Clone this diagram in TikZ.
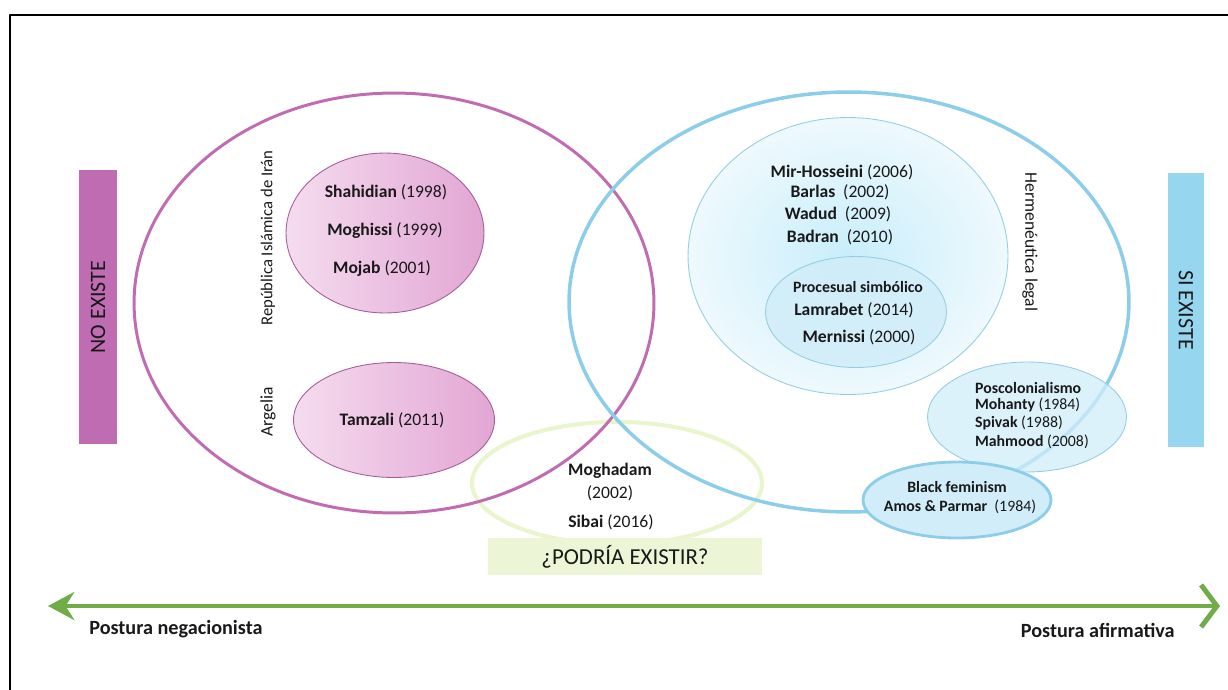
\documentclass[tikz,border=0pt]{standalone}
\usepackage{fontspec}
\setmainfont{Carlito}
\usetikzlibrary{arrows.meta,positioning,shapes.geometric}
\definecolor{nxMagenta}{RGB}{192,108,178}
\definecolor{nxPinkL}{RGB}{245,220,239}
\definecolor{nxPinkR}{RGB}{226,166,212}
\definecolor{nxPinkEdge}{RGB}{168,92,150}
\definecolor{siBlue}{RGB}{140,206,234}
\definecolor{siBar}{RGB}{150,214,238}
\definecolor{siPale}{RGB}{238,249,253}
\definecolor{siMid}{RGB}{200,238,251}
\definecolor{siEdge}{RGB}{150,205,228}
\definecolor{siFill}{RGB}{208,237,249}
\definecolor{pzGreen}{RGB}{232,245,205}
\definecolor{pzFill}{RGB}{236,246,214}
\definecolor{axGreen}{RGB}{112,172,72}
\definecolor{txt}{RGB}{25,25,25}

\tikzset{
  blob/.style={ellipse, inner sep=0pt},
  pinkblob/.style={blob, draw=nxPinkEdge, line width=0.5pt, left color=nxPinkL, right color=nxPinkR},
  authtxt/.style={font=\fontsize{10}{12}\selectfont, text=txt, inner sep=1pt},
  smalltxt/.style={font=\fontsize{9}{11}\selectfont, text=txt, inner sep=1pt},
  sidetxt/.style={font=\fontsize{10}{12}\selectfont, text=txt, inner sep=1pt},
  axtxt/.style={font=\fontsize{11.5}{13}\selectfont\bfseries, text=txt, inner sep=0pt},
  bar/.style={inner sep=0pt, font=\fontsize{12.5}{14}\selectfont, text=txt}
}

\begin{document}
\begin{tikzpicture}[x=0.02cm, y=-0.02cm, line cap=round, line join=round]
  \useasboundingbox (0,0) rectangle (1228,690);
  % frame
  \draw[black, line width=1.4pt] (10,690) -- (10,15) -- (1228,15);

  % podria existir
  \node[blob, draw=pzGreen, line width=2.3pt, minimum width=5.8cm, minimum height=2.44cm] (podria) at (617,483) {};
  \node[fill=pzFill, minimum width=5.48cm, minimum height=0.74cm, inner sep=0pt,
        font=\fontsize{13}{15}\selectfont, text=txt] (podtag) at (625,556.5) {¿PODRÍA EXISTIR?};

  % the two big sets
  \node[blob, draw=nxMagenta, line width=1.7pt, minimum width=10.4cm, minimum height=8.4cm] (noset) at (394,303) {};
  \node[blob, draw=siBlue, line width=2pt, minimum width=11.2cm, minimum height=8.4cm] (siset) at (849,302) {};

  % no existe side
  \node[pinkblob, minimum width=3.96cm, minimum height=3.2cm] (iran) at (385,233) {};
  \node[pinkblob, minimum width=4.02cm, minimum height=2.3cm] (argelia) at (394,420) {};
  \node[authtxt] (shahidian) at (386,192) {\textbf{Shahidian} (1998)};
  \node[authtxt] (moghissi) at (385,231) {\textbf{Moghissi} (1999)};
  \node[authtxt] (mojab) at (382,269) {\textbf{Mojab} (2001)};
  \node[authtxt] (tamzali) at (392,420) {\textbf{Tamzali} (2011)};
  \node[sidetxt, font=\fontsize{9.5}{11}\selectfont, rotate=90] (irantag) at (268,238) {República Islámica de Irán};
  \node[sidetxt, rotate=90] (argtag) at (268,412) {Argelia};

  % si existe side
  \node[blob, draw=siEdge, line width=0.5pt, inner color=siMid, outer color=siPale,
        minimum width=6.4cm, minimum height=5.54cm] (hermen) at (848,256) {};
  \node[blob, draw=siEdge, line width=0.5pt, fill=siFill, fill opacity=0.8,
        minimum width=3.62cm, minimum height=2.22cm] (procesual) at (856,312) {};
  \node[authtxt] (mirh) at (842,172) {\textbf{Mir-Hosseini} (2006)};
  \node[authtxt] (barlas) at (840,192) {\textbf{Barlas}\ \ (2002)};
  \node[authtxt] (wadud) at (838,214) {\textbf{Wadud}\ \ (2009)};
  \node[authtxt] (badran) at (840,237) {\textbf{Badran}\ \ (2010)};
  \node[smalltxt] (proctag) at (858,287) {\textbf{Procesual simbólico}};
  \node[authtxt] (lamrabet) at (854,310) {\textbf{Lamrabet} (2014)};
  \node[authtxt] (mernissi) at (859,337) {\textbf{Mernissi} (2000)};
  \node[sidetxt, rotate=-90] (hermtag) at (1030,242) {Hermenéutica legal};

  \node[blob, draw=siEdge, line width=0.5pt, fill=siFill, fill opacity=0.75,
        minimum width=3.98cm, minimum height=2.2cm] (poscol) at (1027,417) {};
  \node[smalltxt, anchor=west] (postag) at (973,388) {\textbf{Poscolonialismo}};
  \node[smalltxt, anchor=west] (mohanty) at (973,405) {\textbf{Mohanty} (1984)};
  \node[smalltxt, anchor=west] (spivak) at (973,423) {\textbf{Spivak} (1988)};
  \node[smalltxt, anchor=west] (mahmood) at (973,442) {\textbf{Mahmood} (2008)};

  \node[blob, draw=siBlue, line width=1.6pt, fill=siFill,
        minimum width=3.76cm, minimum height=1.52cm] (blackf) at (957,500) {};
  \node[smalltxt] (bftag) at (957,487) {\textbf{Black feminism}};
  \node[smalltxt] (amos) at (960,507) {\textbf{Amos \& Parmar}\ \ (1984)};

  % podria existir authors
  \node[authtxt] (moghadam) at (610,471) {\textbf{Moghadam}};
  \node[authtxt] (moghyr) at (610,493) {(2002)};
  \node[authtxt] (sibai) at (611,522) {\textbf{Sibai} (2016)};

  % side bars
  \node[bar, fill=nxMagenta, rotate=90, minimum width=5.48cm, minimum height=0.76cm] (noexiste) at (98,307) {NO EXISTE};
  \node[bar, fill=siBar, rotate=-90, minimum width=5.48cm, minimum height=0.72cm] (siexiste) at (1186,310) {SI EXISTE};

  % axis
  \coordinate (negend) at (48,606);
  \coordinate (afend) at (1220,606);
  \draw[axGreen, line width=2.8pt, {Stealth[length=15pt,width=16pt,inset=5pt]}-{Straight Barb[length=9pt,width=24pt]}] (negend) -- (afend);
  \node[axtxt, anchor=west] (negac) at (89,629) {Postura negacionista};
  \node[axtxt, anchor=east] (afirm) at (1175,630) {Postura afirmativa};
\end{tikzpicture}
\end{document}
